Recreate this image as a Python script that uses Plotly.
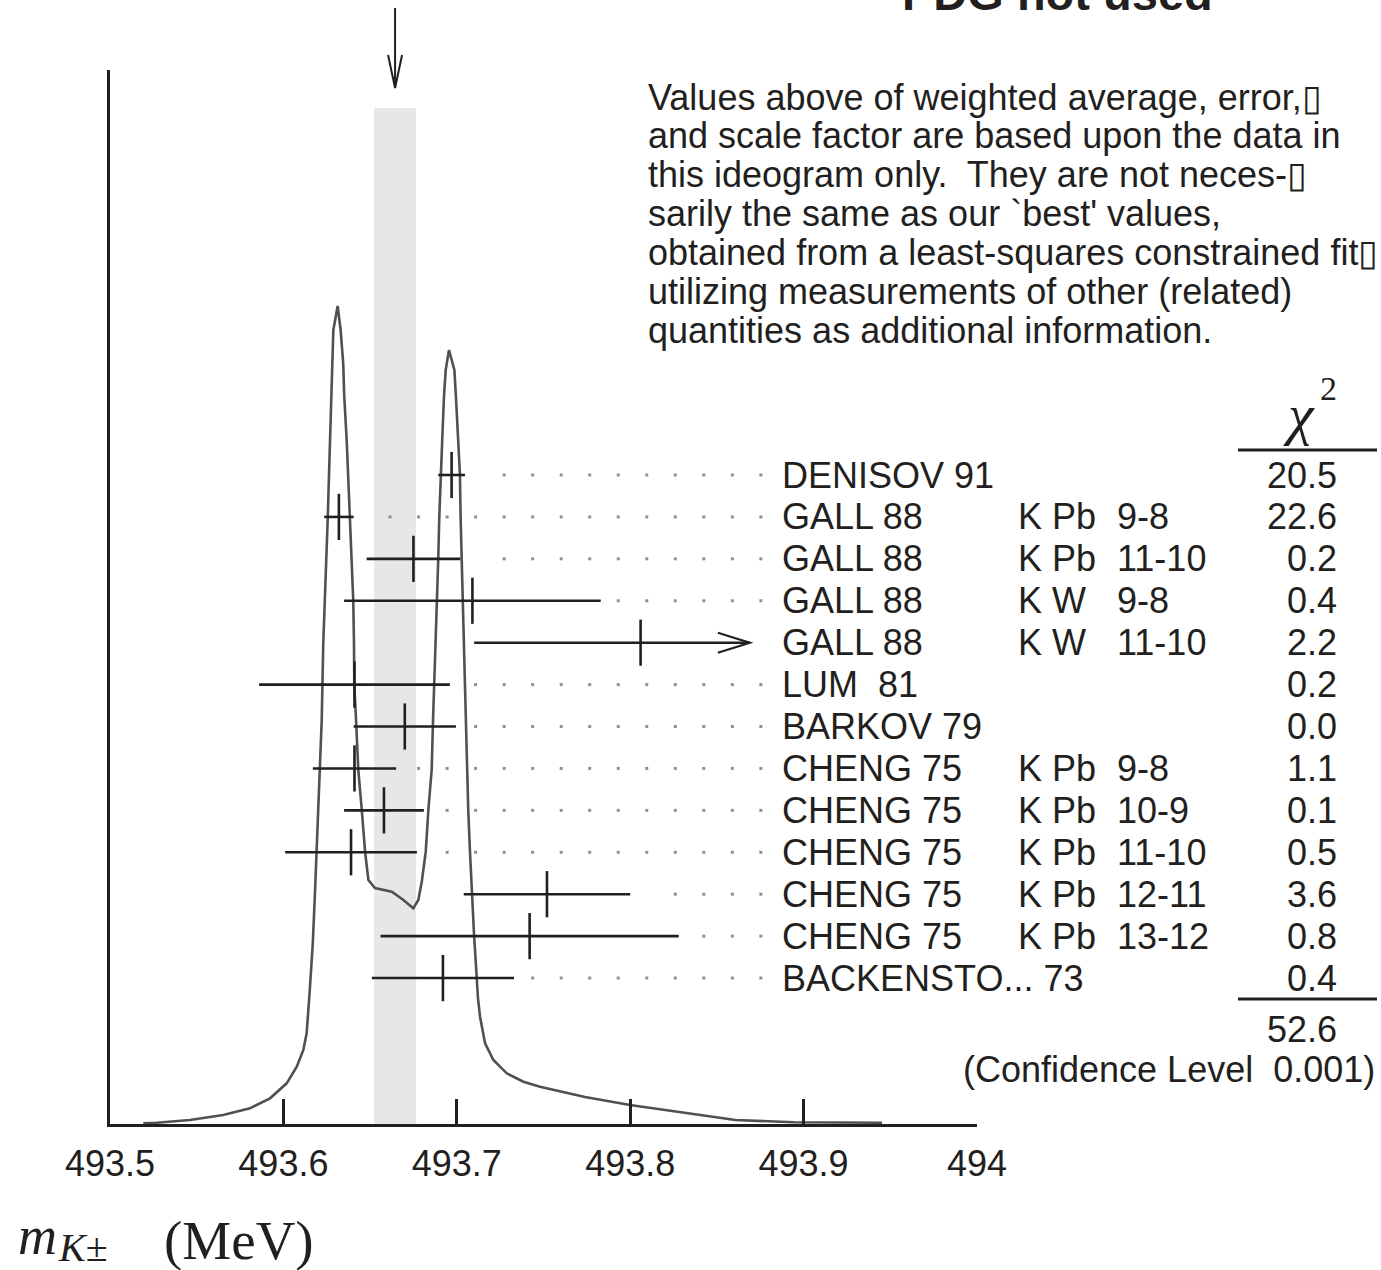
import plotly.graph_objects as go

# ---------------- data ----------------
names = ["DENISOV 91", "GALL 88", "GALL 88", "GALL 88", "GALL 88", "LUM  81",
         "BARKOV 79", "CHENG 75", "CHENG 75", "CHENG 75", "CHENG 75", "CHENG 75",
         "BACKENSTO... 73"]
targets = ["", "K Pb", "K Pb", "K W", "K W", "", "", "K Pb", "K Pb", "K Pb",
           "K Pb", "K Pb", ""]
transitions = ["", "9-8", "11-10", "9-8", "11-10", "", "", "9-8", "10-9",
               "11-10", "12-11", "13-12", ""]
values = [493.697, 493.632, 493.675, 493.709, 493.806, 493.641, 493.670,
          493.641, 493.658, 493.639, 493.752, 493.742, 493.692]
errors = [0.0077, 0.0085, 0.027, 0.074, 0.096, 0.055, 0.0295, 0.024, 0.023,
          0.038, 0.048, 0.086, 0.041]
chi2 = ["20.5", "22.6", "0.2", "0.4", "2.2", "0.2", "0.0", "1.1", "0.1", "0.5",
        "3.6", "0.8", "0.4"]
chi2_total = "52.6"
confidence_level = "0.001"
weighted_avg = 493.6644
weighted_err = 0.0121
display_limit = 493.869

# ideogram curve (mass in MeV, height in arbitrary units)
curve_mass = [493.5192, 493.5269, 493.5461, 493.5653, 493.5807, 493.5923, 493.6019,
              493.6077, 493.6115, 493.6134, 493.6151, 493.6169, 493.6182, 493.6192,
              493.6201, 493.6211, 493.6221, 493.6230, 493.6240, 493.6246, 493.6256,
              493.6263, 493.6269, 493.6273, 493.6279, 493.6288, 493.6313,
              493.6330, 493.6345, 493.6351, 493.6365, 493.6373, 493.6384, 493.6394,
              493.6403, 493.6407, 493.6409, 493.6419, 493.6432, 493.6452, 493.6471,
              493.6490, 493.6528, 493.6625, 493.6692, 493.6749, 493.6778, 493.6798,
              493.6821, 493.6836, 493.6855, 493.6863, 493.6870, 493.6878, 493.6884,
              493.6893, 493.6899, 493.6907, 493.6916, 493.6926, 493.6936, 493.6955,
              493.6986, 493.6995, 493.7009, 493.7018, 493.7022, 493.7028, 493.7038,
              493.7042, 493.7050, 493.7055, 493.7061, 493.7066, 493.7076, 493.7086,
              493.7099, 493.7105, 493.7115, 493.7122, 493.7134, 493.7163, 493.7211,
              493.7288, 493.7384, 493.7480, 493.7739, 493.7999, 493.8607, 493.8945,
              493.9452]
curve_height = [0.7, 1.3, 4, 9, 15.7, 25.7, 40.7,
                57.3, 74, 90.7, 131, 179, 230.7, 272.3,
                314, 354, 404, 481, 523, 565, 607,
                649, 684, 727.3, 760.7, 794, 818,
                794, 760.7, 727.3, 684, 649, 607, 565,
                523, 481, 438.3, 404, 354, 314, 272.3,
                244, 236, 232.3, 224, 215.7, 224, 242.3,
                272.3, 314, 354, 404, 438.3, 481, 522.3,
                565, 607, 650, 684, 727.3, 754, 774,
                754, 727.3, 684, 649.7, 607, 565, 522.3,
                481, 438.3, 404, 354, 314, 272.3, 230.7,
                190.7, 174, 140.7, 126, 107.3, 80.7, 64,
                50.7, 42.3, 37.3, 27, 19, 4, 1.7,
                1.3]

tick_vals = [493.5, 493.6, 493.7, 493.8, 493.9, 494.0]
tick_labels = ["493.5", "493.6", "493.7", "493.8", "493.9", "494"]

note_lines = [
    "Values above of weighted average, error,\u25af",
    "and scale factor are based upon the data in",
    "this ideogram only.\u00a0 They are not neces-\u25af",
    "sarily the same as our `best' values,",
    "obtained from a least-squares constrained fit\u25af",
    "utilizing measurements of other (related)",
    "quantities as additional information.",
]

# ---------------- layout helpers ----------------
W, H = 1381, 1270
L, R, T, B = 110, 977, 70, 1124


def px(xp):
    return (xp - L) / (R - L)


def py(yp):
    return (B - yp) / (B - T)


INK = "#231f20"
SANS = "Liberation Sans, Arial, sans-serif"
SERIF = "Liberation Serif, Times New Roman, serif"

n = len(values)
rows = list(range(n))
plus_err = [min(e, display_limit - v) for v, e in zip(values, errors)]

# dotted leader lines
dot_start, dot_step, dot_end = 493.6615, 0.01645, 493.876
grid = []
g = dot_start
while g <= dot_end:
    grid.append(g)
    g += dot_step
dot_x, dot_y = [], []
for i, (v, pe) in enumerate(zip(values, plus_err)):
    end = v + pe
    if end >= display_limit - 1e-9:
        continue
    for gx in grid:
        if gx > end + 0.0100:
            dot_x.append(gx)
            dot_y.append(i)

fig = go.Figure()

fig.add_trace(go.Scatter(
    x=curve_mass, y=curve_height, mode="lines",
    line=dict(color="#505050", width=2.6), hoverinfo="skip", showlegend=False))

fig.add_trace(go.Scatter(
    x=dot_x, y=dot_y, yaxis="y2", mode="markers",
    marker=dict(symbol="square", size=3, color="#909090"),
    hoverinfo="skip", showlegend=False))

fig.add_trace(go.Scatter(
    x=values, y=rows, yaxis="y2", mode="markers",
    marker=dict(symbol="line-ns", size=33, color=INK,
                line=dict(width=2.6, color=INK)),
    error_x=dict(type="data", symmetric=False, array=plus_err,
                 arrayminus=errors, width=0, thickness=2.6, color=INK),
    showlegend=False))

shapes = []
# weighted average band
shapes.append(dict(type="rect", xref="x", yref="paper",
                   x0=weighted_avg - weighted_err, x1=weighted_avg + weighted_err,
                   y0=0, y1=py(108), fillcolor="#e6e7e9",
                   line=dict(width=0), layer="below"))
# arrow at top pointing to the weighted average
shapes.append(dict(type="line", xref="x", yref="paper",
                   x0=weighted_avg, x1=weighted_avg, y0=py(8), y1=py(88),
                   line=dict(color=INK, width=2)))
shapes.append(dict(type="path", xref="x", yref="paper", xsizemode="pixel",
                   xanchor=weighted_avg,
                   path="M -7,{a} L 0,{b} L 7,{a}".format(a=py(55), b=py(88)),
                   line=dict(color=INK, width=2)))
# arrows on truncated error bars
for i, (v, e) in enumerate(zip(values, errors)):
    if v + e > display_limit:
        shapes.append(dict(type="path", xref="x", yref="y2",
                           xsizemode="pixel", ysizemode="pixel",
                           xanchor=display_limit, yanchor=i,
                           path="M -32,10 L 0,0 L -32,-10",
                           line=dict(color=INK, width=2.2)))
# chi-square rules
for yy in (450, 999):
    shapes.append(dict(type="line", xref="paper", yref="paper",
                       x0=px(1238), x1=px(1377), y0=py(yy), y1=py(yy),
                       line=dict(color=INK, width=2.8)))

ann = []
for k, line in enumerate(note_lines):
    ann.append(dict(text=line, x=px(646), y=py(97 + 38.9 * k), xref="paper",
                    yref="paper", xanchor="left", yanchor="middle",
                    showarrow=False, font=dict(family=SANS, size=36, color=INK)))

for i in rows:
    for txt, xx, anchor in ((names[i], 780, "left"), (targets[i], 1016, "left"),
                            (transitions[i], 1115, "left"), (chi2[i], 1339, "right")):
        if txt:
            ann.append(dict(text=txt, x=px(xx), y=i, xref="paper", yref="y2",
                            xanchor=anchor, yanchor="middle", showarrow=False,
                            font=dict(family=SANS, size=36, color=INK)))

ann.append(dict(text="<i>\u03c7</i>", x=px(1299), y=py(414), xref="paper",
                yref="paper", xanchor="center", yanchor="middle", showarrow=False,
                font=dict(family=SERIF, size=58, color=INK)))
ann.append(dict(text="2", x=px(1328), y=py(388), xref="paper", yref="paper",
                xanchor="center", yanchor="middle", showarrow=False,
                font=dict(family=SERIF, size=34, color=INK)))
ann.append(dict(text=chi2_total, x=px(1339), y=py(1029), xref="paper",
                yref="paper", xanchor="right", yanchor="middle", showarrow=False,
                font=dict(family=SANS, size=36, color=INK)))
ann.append(dict(text="(Confidence Level\u00a0\u00a0" + confidence_level + ")",
                x=px(1377), y=py(1069), xref="paper", yref="paper",
                xanchor="right", yanchor="middle", showarrow=False,
                font=dict(family=SANS, size=36, color=INK)))
ann.append(dict(text="<b>PDG not used</b>", x=px(900), y=py(-7), xref="paper",
                yref="paper", xanchor="left", yanchor="middle", showarrow=False,
                font=dict(family=SANS, size=47, color=INK)))
# axis title  m_{K±} (MeV)
ann.append(dict(text="<i>m</i>", x=px(16), y=py(1236), xref="paper",
                yref="paper", xanchor="left", yanchor="middle", showarrow=False,
                font=dict(family=SERIF, size=54, color=INK)))
ann.append(dict(text="<i>K</i>\u00b1", x=px(56), y=py(1247), xref="paper",
                yref="paper", xanchor="left", yanchor="middle", showarrow=False,
                font=dict(family=SERIF, size=40, color=INK)))
ann.append(dict(text="(MeV)", x=px(162), y=py(1240), xref="paper",
                yref="paper", xanchor="left", yanchor="middle", showarrow=False,
                font=dict(family=SERIF, size=55, color=INK)))

fig.update_layout(
    width=W, height=H,
    margin=dict(l=L, r=W - R, t=T, b=H - B, pad=0),
    paper_bgcolor="white", plot_bgcolor="white",
    showlegend=False,
    xaxis=dict(range=[493.5, 494.0], tickvals=tick_vals, ticktext=tick_labels,
               ticks="inside", ticklen=25, tickwidth=2.5, tickcolor=INK,
               ticklabelstandoff=6,
               showline=True, linewidth=3, linecolor=INK, showgrid=False,
               zeroline=False, tickfont=dict(family=SANS, size=36, color=INK)),
    yaxis=dict(range=[0, B - T], showline=True, linewidth=2.6, linecolor=INK,
               showticklabels=False, ticks="", showgrid=False, zeroline=False),
    yaxis2=dict(overlaying="y", range=[(B - 475) / 41.92, (T - 475) / 41.92],
                visible=False, showgrid=False, zeroline=False),
    shapes=shapes,
    annotations=ann,
)

fig.write_html("out.html", config={"displayModeBar": False},
               post_script="document.body.style.margin='0';"
                           "document.body.style.overflow='hidden';")
